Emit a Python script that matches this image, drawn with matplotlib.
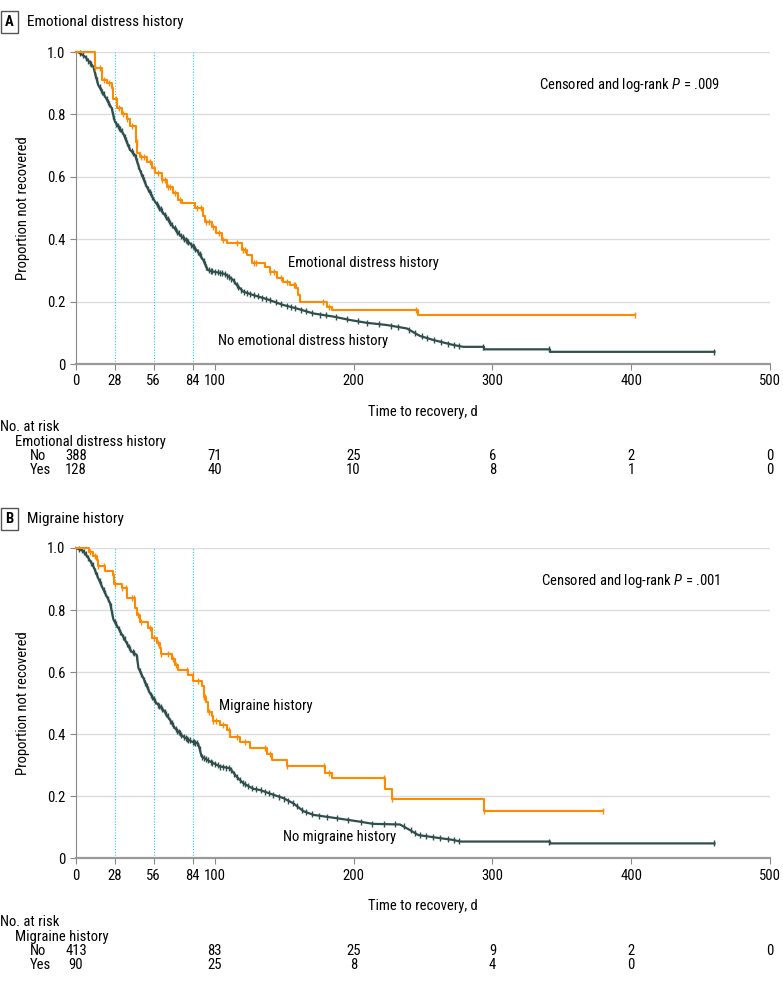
import numpy as np
import matplotlib
matplotlib.use("Agg")
import matplotlib.pyplot as plt
from matplotlib import font_manager
from matplotlib.transforms import blended_transform_factory

# JAMA-style narrow face: take the narrowest family that is installed
prefs = ['Liberation Sans Narrow', 'Noto Sans', 'Roboto', 'Open Sans', 'DejaVu Sans']
cands = []
for f in font_manager.fontManager.ttflist:
    if f.style != 'normal' or f.weight not in (400, 'normal', 'regular'):
        continue
    nm = f.name
    is_narrow = ('Narrow' in nm or 'Condensed' in nm
                 or f.stretch in ('condensed', 'semi-condensed', 'extra-condensed'))
    if not is_narrow:
        continue
    base = next((p for p in prefs if nm.startswith(p)), None)
    if base is None:
        continue
    cands.append((prefs.index(base), 'extra' in str(f.stretch) or 'Extra' in nm, f))
cands.sort(key=lambda c: (c[0], c[1]))
if cands:
    pick = cands[0][2]
    plt.rcParams['font.family'] = [pick.name, 'DejaVu Sans']
    plt.rcParams['font.stretch'] = pick.stretch
else:
    plt.rcParams['font.family'] = ['DejaVu Sans']
    plt.rcParams['font.stretch'] = 'condensed'
FONT = plt.rcParams['font.family'][0]
plt.rcParams['mathtext.fontset'] = 'custom'
plt.rcParams['mathtext.it'] = FONT + ':italic'
plt.rcParams['mathtext.rm'] = FONT

ORANGE = '#ff8a00'
GREEN = '#2e4f4c'

# ---- Panel A: emotional distress history ----
a_yes_t = [0, 13.7, 18.5, 22.0, 25.7, 27.0, 29.3, 33.0, 36.5, 38.9, 43.2, 44.2, 46.1, 50.9,
           54.5, 56.9, 61.7, 65.3, 70.1, 73.7, 76.1, 85.7, 91.7, 93.0, 97.7, 101.0, 105.0,
           108.6, 119.4, 123.0, 126.6, 136.0, 139.8, 144.6, 149.4, 154.2, 158.5, 159.7,
           161.4, 180.6, 184.2, 246.6]
a_yes_s = [1.0, 0.95, 0.91, 0.90, 0.884, 0.85, 0.82, 0.80, 0.785, 0.763, 0.71, 0.675, 0.665,
           0.648, 0.627, 0.611, 0.59, 0.568, 0.547, 0.526, 0.515, 0.499, 0.474, 0.456, 0.44,
           0.419, 0.397, 0.387, 0.365, 0.349, 0.323, 0.312, 0.296, 0.275, 0.264, 0.253,
           0.243, 0.221, 0.20, 0.184, 0.173, 0.157]
a_yes_end = 403
a_yes_cens = [14, 17, 20, 24, 26, 29, 31, 34, 37, 40, 44, 47, 49, 53, 56, 59, 62, 64, 66, 68,
              71, 75, 87, 90, 94, 96, 99, 103, 106, 116, 120, 122, 128, 130, 140, 143, 148,
              152, 157, 158, 178, 182, 245, 403]

a_no_t = [0, 1.5, 6.5, 12.5, 16, 21, 25.7, 28, 34, 39, 42.5, 46, 51, 57, 63, 70, 75, 82, 87,
          91.7, 95, 99, 106, 108.6, 113.3, 115.8, 120.5, 127.7, 137.4, 149.4, 159, 171,
          185.4, 197.4, 209.4, 223.8, 238.3, 247.8, 257.4, 271.8, 279, 294, 294, 341.5,
          341.5, 460]
a_no_s = [1.0, 1.0, 0.985, 0.953, 0.894, 0.857, 0.82, 0.777, 0.739, 0.686, 0.67, 0.622,
          0.568, 0.52, 0.483, 0.44, 0.413, 0.387, 0.365, 0.333, 0.301, 0.296, 0.29, 0.285,
          0.269, 0.253, 0.232, 0.221, 0.208, 0.189, 0.178, 0.162, 0.152, 0.141, 0.132,
          0.125, 0.114, 0.09, 0.077, 0.061, 0.055, 0.055, 0.047, 0.047, 0.039, 0.039]
a_no_cens = [3, 5, 7, 9, 10, 11, 13, 14, 15, 17, 18, 19, 20, 22, 23, 24, 26, 27, 29, 30, 31,
             32, 33, 35, 36, 37, 38, 40, 41, 43, 44, 45, 47, 48, 49, 50, 52, 53, 54, 55, 58,
             59, 60, 61, 62, 64, 65, 66, 67, 68, 69, 71, 72, 73, 74, 76, 77, 78, 79, 80, 81,
             83, 84, 85, 86, 88, 89, 90, 92, 93, 94, 96, 97, 98, 100, 102, 104, 105, 107,
             109, 110, 112, 114, 116, 117, 119, 121, 123, 125, 128, 131, 134, 137, 140, 144,
             148, 152, 155, 158, 162, 166, 170, 176, 180, 187, 195, 203, 210, 218, 227, 232,
             240, 244, 249, 253, 258, 263, 268, 272, 276, 293, 341, 460]

# ---- Panel B: migraine history ----
b_yes_t = [0, 9.6, 12.5, 15.4, 16, 21, 27, 27.5, 32.8, 36.5, 37, 42.5, 44, 46, 52, 54.5, 58,
           60.5, 61, 69, 71, 73.7, 81, 84.5, 90.5, 92, 94, 95.3, 97.7, 99, 103.7, 108.6,
           111, 118, 125.4, 137.4, 141, 151.8, 179.4, 184.2, 222.6, 228, 294]
b_yes_s = [1.0, 0.986, 0.973, 0.962, 0.941, 0.927, 0.914, 0.885, 0.871, 0.849, 0.838, 0.806,
           0.785, 0.760, 0.742, 0.710, 0.694, 0.677, 0.659, 0.642, 0.624, 0.608, 0.591,
           0.570, 0.554, 0.521, 0.505, 0.473, 0.457, 0.444, 0.43, 0.414, 0.392, 0.376,
           0.357, 0.336, 0.317, 0.298, 0.276, 0.258, 0.224, 0.191, 0.154]
b_yes_end = 380
b_yes_cens = [10, 14, 16, 20, 27, 28, 33, 36, 40, 42, 45, 47, 53, 56, 59, 61, 66, 70, 72, 80,
              84, 88, 92, 93, 96, 99, 101, 106, 110, 116, 122, 136, 140, 152, 179, 182,
              222, 228, 294, 380]

b_no_t = [0, 5.3, 8.9, 12.5, 16, 19.7, 24.5, 27, 30.5, 36.5, 40, 43.7, 45, 48.5, 53.3, 58,
          63, 67.7, 71.3, 77.3, 83.4, 88, 90.5, 96.5, 103.7, 111, 115.7, 120.5, 127.7,
          132.6, 142, 149.4, 156.6, 163.8, 171, 192.6, 204.6, 214, 233.4, 240.6, 246.6,
          257.4, 272, 276.7, 341.5, 341.5, 460]
b_no_s = [1.0, 0.99, 0.968, 0.941, 0.903, 0.866, 0.823, 0.769, 0.742, 0.694, 0.666, 0.656,
          0.613, 0.581, 0.532, 0.50, 0.478, 0.446, 0.419, 0.392, 0.376, 0.37, 0.328, 0.312,
          0.296, 0.29, 0.263, 0.242, 0.224, 0.22, 0.205, 0.194, 0.177, 0.152, 0.14, 0.126,
          0.118, 0.111, 0.109, 0.091, 0.075, 0.068, 0.059, 0.054, 0.054, 0.048, 0.048]
b_no_cens = [2, 4, 6, 7, 9, 11, 12, 14, 15, 17, 18, 20, 21, 23, 25, 26, 28, 29, 31, 32, 34,
             35, 37, 38, 39, 41, 42, 44, 46, 47, 49, 50, 51, 52, 54, 55, 56, 57, 59, 60, 61,
             62, 64, 65, 66, 68, 69, 70, 72, 73, 74, 75, 76, 78, 79, 80, 81, 82, 84, 85, 86,
             87, 89, 91, 92, 94, 95, 97, 98, 100, 102, 104, 106, 108, 110, 112, 114, 116,
             118, 120, 122, 124, 127, 130, 133, 136, 139, 142, 146, 150, 153, 156, 159, 163,
             166, 170, 175, 181, 188, 196, 205, 213, 222, 230, 236, 241, 244, 248, 252, 257,
             262, 268, 272, 276, 341, 460]

x_ticks = [0, 28, 56, 84, 100, 200, 300, 400, 500]
ref_days = [28, 56, 84]
risk_days = [0, 100, 200, 300, 400, 500]
a_risk_no = ['388', '71', '25', '6', '2', '0']
a_risk_yes = ['128', '40', '10', '8', '1', '0']
b_risk_no = ['413', '83', '25', '9', '2', '0']
b_risk_yes = ['90', '25', '8', '4', '0', '']

FS = 10.5


def step_value(t, s, x):
    idx = np.searchsorted(np.asarray(t), x, side='right') - 1
    return np.asarray(s)[np.clip(idx, 0, len(s) - 1)]


def draw_panel(ax, yes, no, labels, pval):
    yes_t, yes_s, yes_end, yes_cens = yes
    no_t, no_s, no_cens = no

    ax.set_xlim(0, 500)
    ax.set_ylim(0, 1.0)
    ax.set_yticks([0, 0.2, 0.4, 0.6, 0.8, 1.0])
    ax.set_yticklabels(['0', '0.2', '0.4', '0.6', '0.8', '1.0'])
    ax.set_xticks(x_ticks)
    ax.grid(axis='y', color='#dcdcdc', lw=1.0)
    ax.set_axisbelow(True)
    for sp in ['top', 'right']:
        ax.spines[sp].set_visible(False)
    ax.spines['left'].set_color('#888888')
    ax.spines['bottom'].set_color('#999999')
    ax.spines['bottom'].set_linewidth(1.6)
    ax.tick_params(axis='both', colors='#888888', labelcolor='black', labelsize=FS,
                   length=4, width=0.8)
    for d in ref_days:
        ax.plot([d, d], [0, 1.0], ls=(0, (1, 1.5)), color='#22d3e6', lw=0.8, zorder=1)

    # no history (dense curve)
    ax.plot(no_t, no_s, color=GREEN, lw=1.6, clip_on=False, zorder=3)
    ax.plot(no_cens, np.interp(no_cens, no_t, no_s), ls='none', marker='|',
            ms=5, mew=1.0, color=GREEN, clip_on=False, zorder=3)

    # history (step curve)
    t = list(yes_t) + [yes_end]
    s = list(yes_s) + [yes_s[-1]]
    ax.step(t, s, where='post', color=ORANGE, lw=1.5, clip_on=False, zorder=4)
    ax.plot(yes_cens, step_value(yes_t, yes_s, yes_cens), ls='none', marker='|',
            ms=5, mew=1.0, color=ORANGE, clip_on=False, zorder=4)

    for txt, x, y in labels:
        ax.text(x, y, txt, fontsize=FS, va='center', ha='left')
    ax.text(464, 0.894, 'Censored and log-rank $\\it{P}$ = ' + pval, fontsize=FS,
            ha='right', va='center')
    ax.set_ylabel('Proportion not recovered', fontsize=FS, labelpad=12)
    ax.set_xlabel('Time to recovery, d', fontsize=FS, labelpad=12)


def draw_risk(fig, ax, group, rows, y0):
    tr = blended_transform_factory(ax.transData, fig.transFigure)
    H = 986.0
    fig.text(0.0, 1 - y0 / H, 'No. at risk', fontsize=FS, va='center')
    fig.text(15 / 783, 1 - (y0 + 15) / H, group, fontsize=FS, va='center')
    for i, (name, vals) in enumerate(rows):
        yy = 1 - (y0 + 29 + 14 * i) / H
        fig.text(30 / 783, yy, name, fontsize=FS, va='center')
        for d, v in zip(risk_days, vals):
            ax.text(d, yy, v, transform=tr, fontsize=FS, ha='center', va='center',
                    clip_on=False)


def panel_title(fig, letter, title, y):
    H = 986.0
    fig.text(5 / 783, 1 - y / H, letter, fontsize=FS, weight='bold', va='center',
             bbox=dict(boxstyle='square,pad=0.3', fc='white', ec='#555555', lw=1.0))
    fig.text(27 / 783, 1 - y / H, title, fontsize=11, va='center')


fig = plt.figure(figsize=(7.83, 9.86), dpi=100)
axA = fig.add_axes([76 / 783, 1 - 364 / 986, 694 / 783, 312 / 986])
axB = fig.add_axes([76 / 783, 1 - 858.3 / 986, 694 / 783, 310.3 / 986])

draw_panel(axA, (a_yes_t, a_yes_s, a_yes_end, a_yes_cens), (a_no_t, a_no_s, a_no_cens),
           [('Emotional distress history', 152.7, 0.324),
            ('No emotional distress history', 102.3, 0.074)], '.009')
draw_panel(axB, (b_yes_t, b_yes_s, b_yes_end, b_yes_cens), (b_no_t, b_no_s, b_no_cens),
           [('Migraine history', 103, 0.491),
            ('No migraine history', 149, 0.069)], '.001')

panel_title(fig, 'A', 'Emotional distress history', 22)
panel_title(fig, 'B', 'Migraine history', 519)

draw_risk(fig, axA, 'Emotional distress history',
          [('No', a_risk_no), ('Yes', a_risk_yes)], 427)
draw_risk(fig, axB, 'Migraine history',
          [('No', b_risk_no), ('Yes', b_risk_yes)], 922)

fig.savefig('out.png', dpi=100)
